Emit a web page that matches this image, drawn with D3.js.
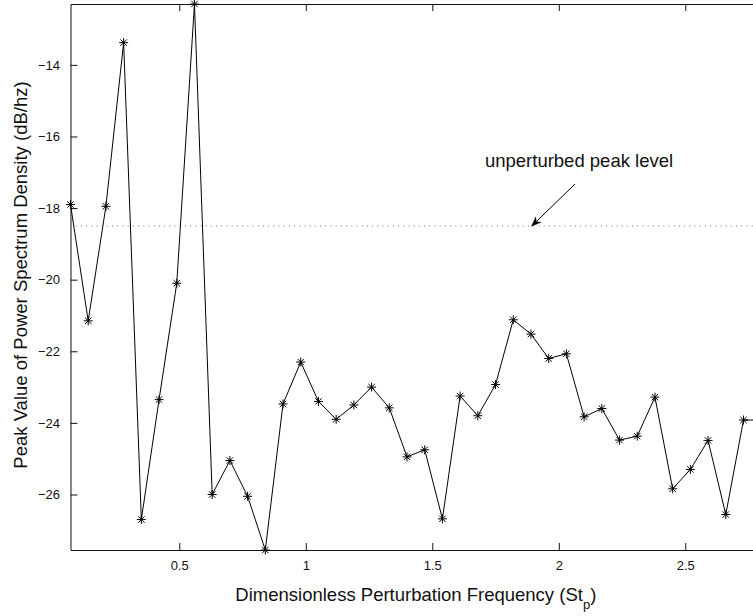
<!DOCTYPE html>
<html>
<head>
<meta charset="utf-8">
<script src="https://cdn.jsdelivr.net/npm/d3@7"></script>
<style>
  body { margin: 0; background: #fff; }
  svg { display: block; font-family: "Liberation Sans", Arial, Helvetica, sans-serif; }
</style>
</head>
<body>
<svg id="chart" width="753" height="616"></svg>
<script>
// Perturbation frequency (St_p) of each forced case
const freq = [0.07, 0.14, 0.21, 0.28, 0.35, 0.42, 0.49, 0.56, 0.63, 0.70,
              0.77, 0.84, 0.91, 0.98, 1.05, 1.12, 1.19, 1.26, 1.33, 1.40,
              1.47, 1.54, 1.61, 1.68, 1.75, 1.82, 1.89, 1.96, 2.03, 2.10,
              2.17, 2.24, 2.31, 2.38, 2.45, 2.52, 2.59, 2.66, 2.73, 2.80];
// Peak value of the power spectrum density for each case (dB/hz)
const peakDb = [-17.9, -21.15, -17.95, -13.38, -26.7, -23.35, -20.1, -12.3, -26.0, -25.05,
                -26.05, -27.55, -23.47, -22.3, -23.4, -23.9, -23.5, -23.0, -23.58, -24.95,
                -24.75, -26.68, -23.25, -23.8, -22.93, -21.12, -21.52, -22.2, -22.07, -23.83,
                -23.6, -24.48, -24.37, -23.28, -25.84, -25.3, -24.49, -26.56, -23.92, -23.92];
// Reference level of the unforced flow
const unperturbedLevel = -18.5;

const xTicks = [0.5, 1, 1.5, 2, 2.5];
const yTicks = [-26, -24, -22, -20, -18, -16, -14];

const noteText = "unperturbed peak level";
const noteAnchor = [2.08, -16.85];   // text centre / baseline
const noteTail = [2.064, -17.33];    // arrow start
const noteTip = [1.893, unperturbedLevel]; // arrow end on the reference line

const svg = d3.select("#chart");
const plot = { left: 70.5, right: 761.2, top: 4, bottom: 550 };

const x = d3.scaleLinear().domain(d3.extent(freq)).range([plot.left, plot.right]);
const y = d3.scaleLinear().domain(d3.extent(peakDb)).range([plot.bottom, plot.top]);

svg.append("rect").attr("width", 753).attr("height", 616).attr("fill", "#fff");

// Axes with inward ticks on all four sides
const tickLen = 7;
const fmtX = d3.format("~g");
const fmtY = d3.format("d");

const gB = svg.append("g").attr("transform", `translate(0,${plot.bottom})`)
  .call(d3.axisBottom(x).tickValues(xTicks).tickFormat(fmtX)
        .tickSizeInner(-tickLen).tickSizeOuter(0).tickPadding(11));
const gT = svg.append("g").attr("transform", `translate(0,${plot.top})`)
  .call(d3.axisTop(x).tickValues(xTicks).tickFormat("")
        .tickSizeInner(-tickLen).tickSizeOuter(0));
const gL = svg.append("g").attr("transform", `translate(${plot.left},0)`)
  .call(d3.axisLeft(y).tickValues(yTicks).tickFormat(fmtY)
        .tickSizeInner(-tickLen).tickSizeOuter(0).tickPadding(10.5));
const gR = svg.append("g").attr("transform", `translate(${plot.right},0)`)
  .call(d3.axisRight(y).tickValues(yTicks).tickFormat("")
        .tickSizeInner(-tickLen).tickSizeOuter(0));

[gB, gT, gL, gR].forEach(g => {
  g.selectAll(".domain").attr("stroke", "#111").attr("stroke-width", 1);
  g.selectAll(".tick line").attr("stroke", "#111").attr("stroke-width", 1);
  g.selectAll(".tick text").attr("fill", "#111")
    .style("font-family", '"Liberation Sans", Arial, Helvetica, sans-serif')
    .style("font-size", "13px");
});

// Dotted reference line
svg.append("line")
  .attr("x1", plot.left).attr("x2", plot.right)
  .attr("y1", y(unperturbedLevel)).attr("y2", y(unperturbedLevel))
  .attr("stroke", "#777").attr("stroke-width", 1)
  .attr("stroke-dasharray", "1 4.2");

// Data line
const line = d3.line().x((d, i) => x(freq[i])).y(d => y(d));
svg.append("path")
  .datum(peakDb)
  .attr("d", line)
  .attr("fill", "none")
  .attr("stroke", "#000")
  .attr("stroke-width", 1);

// Asterisk markers
const star = "M-4.5,0H4.5M0,-4.5V4.5M-3.2,-3.2L3.2,3.2M-3.2,3.2L3.2,-3.2";
svg.append("g").selectAll("path")
  .data(peakDb)
  .join("path")
  .attr("transform", (d, i) => `translate(${x(freq[i])},${y(d)})`)
  .attr("d", star)
  .attr("fill", "none")
  .attr("stroke", "#000")
  .attr("stroke-width", 1);

// Annotation arrow
const x0 = x(noteTail[0]), y0 = y(noteTail[1]);
const x1 = x(noteTip[0]), y1 = y(noteTip[1]);
svg.append("line")
  .attr("x1", x0).attr("y1", y0).attr("x2", x1).attr("y2", y1)
  .attr("stroke", "#000").attr("stroke-width", 1);
const ang = Math.atan2(y1 - y0, x1 - x0);
const headLen = 9, headHalf = 3.6;
const bx = x1 - headLen * Math.cos(ang), by = y1 - headLen * Math.sin(ang);
const px = -Math.sin(ang) * headHalf, py = Math.cos(ang) * headHalf;
svg.append("path")
  .attr("d", `M${x1},${y1}L${bx + px},${by + py}L${x1 - 6 * Math.cos(ang)},${y1 - 6 * Math.sin(ang)}L${bx - px},${by - py}Z`)
  .attr("fill", "#000").attr("stroke", "#000").attr("stroke-width", 0.6);

svg.append("text")
  .attr("x", x(noteAnchor[0])).attr("y", y(noteAnchor[1]))
  .attr("text-anchor", "middle")
  .style("font-size", "18.5px")
  .attr("fill", "#111")
  .text(noteText);

// Axis titles
const xTitle = svg.append("text")
  .attr("x", (plot.left + plot.right) / 2).attr("y", 600.5)
  .attr("text-anchor", "middle")
  .style("font-size", "18.5px")
  .attr("fill", "#111");
xTitle.append("tspan").text("Dimensionless Perturbation Frequency (St");
xTitle.append("tspan").attr("dy", 8).style("font-size", "13px").text("p");
xTitle.append("tspan").attr("dy", -8).text(")");

svg.append("text")
  .attr("transform", `translate(27,${(plot.top + plot.bottom) / 2 - 2}) rotate(-90)`)
  .attr("text-anchor", "middle")
  .style("font-size", "18.5px")
  .attr("fill", "#111")
  .text("Peak Value of Power Spectrum Density (dB/hz)");
</script>
</body>
</html>
